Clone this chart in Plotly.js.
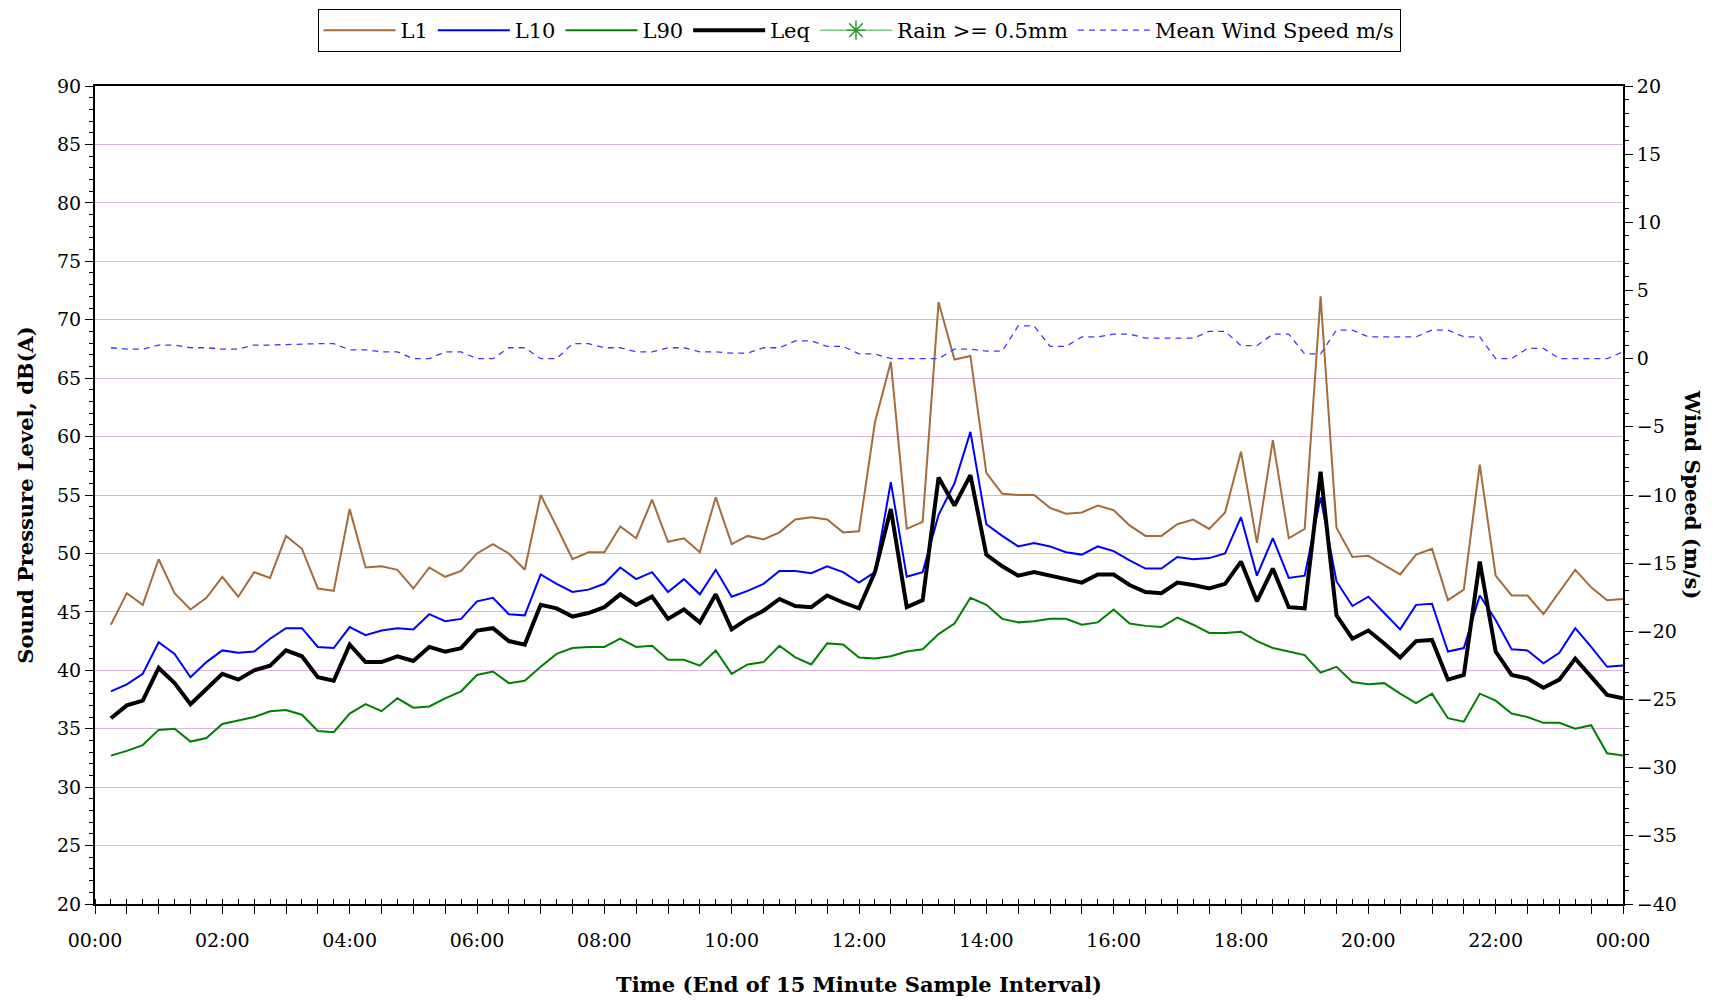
<!DOCTYPE html>
<html>
<head>
<meta charset="utf-8">
<script src="https://cdn.plot.ly/plotly-3.0.1.min.js"></script>
<style>
  html, body { margin: 0; padding: 0; background: #ffffff; }
  #chart { width: 1717px; height: 1005px; }
</style>
</head>
<body>
<div id="chart"></div>
<script>
// Time labels (end of 15 minute sample interval)
const times = [
  "00:15","00:30","00:45","01:00","01:15","01:30","01:45","02:00",
  "02:15","02:30","02:45","03:00","03:15","03:30","03:45","04:00",
  "04:15","04:30","04:45","05:00","05:15","05:30","05:45","06:00",
  "06:15","06:30","06:45","07:00","07:15","07:30","07:45","08:00",
  "08:15","08:30","08:45","09:00","09:15","09:30","09:45","10:00",
  "10:15","10:30","10:45","11:00","11:15","11:30","11:45","12:00",
  "12:15","12:30","12:45","13:00","13:15","13:30","13:45","14:00",
  "14:15","14:30","14:45","15:00","15:15","15:30","15:45","16:00",
  "16:15","16:30","16:45","17:00","17:15","17:30","17:45","18:00",
  "18:15","18:30","18:45","19:00","19:15","19:30","19:45","20:00",
  "20:15","20:30","20:45","21:00","21:15","21:30","21:45","22:00",
  "22:15","22:30","22:45","23:00","23:15","23:30","23:45","24:00"
];

const L1 = [
  43.9,46.6,45.6,49.5,46.6,45.2,46.2,48.0,46.3,48.4,47.9,51.5,50.4,47.0,46.8,53.8,
  48.8,48.9,48.6,47.0,48.8,48.0,48.5,50.0,50.8,50.0,48.6,55.0,52.3,49.5,50.1,50.1,
  52.3,51.3,54.6,51.0,51.3,50.1,54.8,50.8,51.5,51.2,51.8,52.9,53.1,52.9,51.8,51.9,
  61.2,66.4,52.1,52.7,71.5,66.6,66.9,56.9,55.1,55.0,55.0,53.9,53.4,53.5,54.1,53.7,
  52.4,51.5,51.5,52.5,52.9,52.1,53.5,58.7,50.9,59.7,51.3,52.1,72.0,52.2,49.7,49.8,
  49.0,48.2,49.9,50.4,46.0,46.9,57.6,48.1,46.4,46.4,44.8,46.7,48.6,47.1,46.0,46.1
];

const L10 = [
  38.2,38.8,39.7,42.4,41.4,39.4,40.7,41.7,41.5,41.6,42.7,43.6,43.6,42.0,41.9,43.7,
  43.0,43.4,43.6,43.5,44.8,44.2,44.4,45.9,46.2,44.8,44.7,48.2,47.4,46.7,46.9,47.4,
  48.8,47.8,48.4,46.7,47.8,46.5,48.6,46.3,46.8,47.4,48.5,48.5,48.3,48.9,48.4,47.5,
  48.4,56.1,48.0,48.4,53.3,56.0,60.4,52.5,51.5,50.6,50.9,50.6,50.1,49.9,50.6,50.2,
  49.4,48.7,48.7,49.7,49.5,49.6,50.0,53.1,48.1,51.3,47.9,48.1,54.8,47.6,45.5,46.3,
  44.9,43.5,45.6,45.7,41.6,41.9,46.4,44.3,41.8,41.7,40.6,41.5,43.6,42.0,40.3,40.4
];

const L90 = [
  32.7,33.1,33.6,34.9,35.0,33.9,34.2,35.4,35.7,36.0,36.5,36.6,36.2,34.8,34.7,36.3,
  37.1,36.5,37.6,36.8,36.9,37.6,38.2,39.6,39.9,38.9,39.1,40.3,41.4,41.9,42.0,42.0,
  42.7,42.0,42.1,40.9,40.9,40.4,41.7,39.7,40.5,40.7,42.1,41.1,40.5,42.3,42.2,41.1,
  41.0,41.2,41.6,41.8,43.1,44.0,46.2,45.6,44.4,44.1,44.2,44.4,44.4,43.9,44.1,45.2,
  44.0,43.8,43.7,44.5,43.9,43.2,43.2,43.3,42.5,41.9,41.6,41.3,39.8,40.3,39.0,38.8,
  38.9,38.0,37.2,38.0,35.9,35.6,38.0,37.4,36.3,36.0,35.5,35.5,35.0,35.3,32.9,32.7
];

const Leq = [
  35.9,37.0,37.4,40.2,38.9,37.1,38.4,39.7,39.2,40.0,40.4,41.7,41.2,39.4,39.1,42.2,
  40.7,40.7,41.2,40.8,42.0,41.6,41.9,43.4,43.6,42.5,42.2,45.6,45.3,44.6,44.9,45.4,
  46.5,45.6,46.3,44.4,45.2,44.1,46.5,43.5,44.4,45.1,46.1,45.5,45.4,46.4,45.8,45.3,
  48.4,53.8,45.4,46.0,56.5,54.1,56.7,49.9,48.9,48.1,48.4,48.1,47.8,47.5,48.2,48.2,
  47.3,46.7,46.6,47.5,47.3,47.0,47.4,49.3,45.9,48.7,45.4,45.3,57.0,44.7,42.7,43.4,
  42.3,41.1,42.5,42.6,39.2,39.6,49.3,41.6,39.6,39.3,38.5,39.2,41.0,39.5,37.9,37.6
];

const windSpeed = [
  0.8,0.7,0.7,1.0,1.0,0.8,0.8,0.7,0.7,1.0,1.0,1.05,1.05,1.1,1.1,0.65,
  0.65,0.5,0.5,0,0,0.5,0.5,0,0,0.8,0.8,0,0,1.1,1.1,0.8,
  0.8,0.5,0.5,0.8,0.8,0.5,0.5,0.4,0.4,0.8,0.8,1.3,1.3,0.9,0.9,0.35,
  0.35,0,0,0,0,0.7,0.7,0.55,0.55,2.4,2.4,0.9,0.9,1.6,1.6,1.8,
  1.8,1.5,1.5,1.5,1.5,2.0,2.0,0.95,0.95,1.8,1.8,0.35,0.35,2.1,2.1,1.6,
  1.6,1.6,1.6,2.1,2.1,1.6,1.6,0,0,0.75,0.75,0,0,0,0,0.5
];

// No interval reached the rain threshold: every value is empty (legend entry only)
const rain = [
  null,null,null,null,null,null,null,null,null,null,null,null,null,null,null,null,
  null,null,null,null,null,null,null,null,null,null,null,null,null,null,null,null,
  null,null,null,null,null,null,null,null,null,null,null,null,null,null,null,null,
  null,null,null,null,null,null,null,null,null,null,null,null,null,null,null,null,
  null,null,null,null,null,null,null,null,null,null,null,null,null,null,null,null,
  null,null,null,null,null,null,null,null,null,null,null,null,null,null,null,null
];

const tickLabels = ["00:00","02:00","04:00","06:00","08:00","10:00","12:00",
                    "14:00","16:00","18:00","20:00","22:00","00:00"];

// convert "HH:MM" to hours
const toHours = t => { const p = t.split(":"); return (+p[0]) + (+p[1]) / 60; };
const x = times.map(toHours);

// Axis ticks: every 30 minutes, labelled every 2 hours
const tickvals = [], ticktext = [];
for (let k = 0; k <= 48; k++) {
  tickvals.push(k / 2);
  ticktext.push(k % 4 === 0 ? tickLabels[k / 4] : "");
}

const FONT = "'DejaVu Serif', 'Liberation Serif', serif";

const traces = [
  { x: x, y: L1, name: "L1", mode: "lines", line: { color: "#a46c3a", width: 2 } },
  { x: x, y: L10, name: "L10", mode: "lines", line: { color: "#0000ff", width: 2 } },
  { x: x, y: L90, name: "L90", mode: "lines", line: { color: "#008000", width: 2 } },
  { x: x, y: Leq, name: "Leq", mode: "lines", line: { color: "#000000", width: 4 } },
  { x: x, y: rain, name: "Rain >= 0.5mm", mode: "lines+markers", yaxis: "y2",
    line: { color: "#7fc87f", width: 1.5 },
    marker: { symbol: "asterisk-open", size: 16, color: "#2e9a2e", line: { color: "#2e9a2e", width: 1.5 } } },
  { x: x, y: windSpeed, name: "Mean Wind Speed m/s", mode: "lines", yaxis: "y2",
    line: { color: "#3b3bff", width: 1.3, dash: "6px,5px" } }
];

const layout = {
  width: 1717, height: 1005,
  paper_bgcolor: "#ffffff", plot_bgcolor: "#ffffff",
  font: { family: FONT, size: 19, color: "#000000" },
  margin: { l: 95, r: 94, t: 86, b: 101, pad: 0 },
  showlegend: true,
  legend: {
    orientation: "h", x: 0.5, xanchor: "center", xref: "paper",
    y: 0.991, yanchor: "top", yref: "container",
    bgcolor: "#ffffff", bordercolor: "#000000", borderwidth: 1,
    font: { family: FONT, size: 21 }, itemwidth: 72, tracegroupgap: 0
  },
  xaxis: {
    range: [0, 24], showgrid: false, zeroline: false,
    tickmode: "array", tickvals: tickvals, ticktext: ticktext,
    ticks: "outside", ticklen: 8, tickwidth: 1, tickcolor: "#000",
    ticklabelstandoff: 10,
    minor: { dtick: 0.25, tick0: 0, ticks: "inside", ticklen: 5, tickcolor: "#000", tickwidth: 1, showgrid: false },
    showline: true, linecolor: "#000", linewidth: 2, mirror: true,
    tickfont: { family: FONT, size: 19 },
    title: { text: "<b>Time (End of 15 Minute Sample Interval)</b>", font: { family: FONT, size: 21 }, standoff: 28 },
    fixedrange: true
  },
  yaxis: {
    range: [20, 90], dtick: 5, tick0: 20,
    showgrid: true, gridcolor: "#dcb3dc", gridwidth: 1, zeroline: false,
    ticks: "outside", ticklen: 8, tickwidth: 1, tickcolor: "#000",
    minor: { dtick: 1, ticks: "outside", ticklen: 4, tickcolor: "#000", tickwidth: 1, showgrid: false },
    showline: true, linecolor: "#000", linewidth: 2, mirror: false,
    tickfont: { family: FONT, size: 19 },
    title: { text: "<b>Sound Pressure Level, dB(A)</b>", font: { family: FONT, size: 21 }, standoff: 18 }
  },
  yaxis2: {
    range: [-40, 20], dtick: 5, tick0: -40, overlaying: "y", side: "right",
    showgrid: false, zeroline: false,
    ticks: "outside", ticklen: 8, tickwidth: 1, tickcolor: "#000",
    minor: { dtick: 1, ticks: "outside", ticklen: 4, tickcolor: "#000", tickwidth: 1, showgrid: false },
    showline: true, linecolor: "#000", linewidth: 2,
    tickfont: { family: FONT, size: 19 }
  },
  annotations: [{
    text: "<b>Wind Speed (m/s)</b>", textangle: 90,
    xref: "paper", yref: "paper", x: 1.046, y: 0.5, xanchor: "center", yanchor: "middle",
    showarrow: false, font: { family: FONT, size: 21, color: "#000" }
  }]
};

Plotly.newPlot("chart", traces, layout, { displayModeBar: false, staticPlot: true });
</script>
</body>
</html>
